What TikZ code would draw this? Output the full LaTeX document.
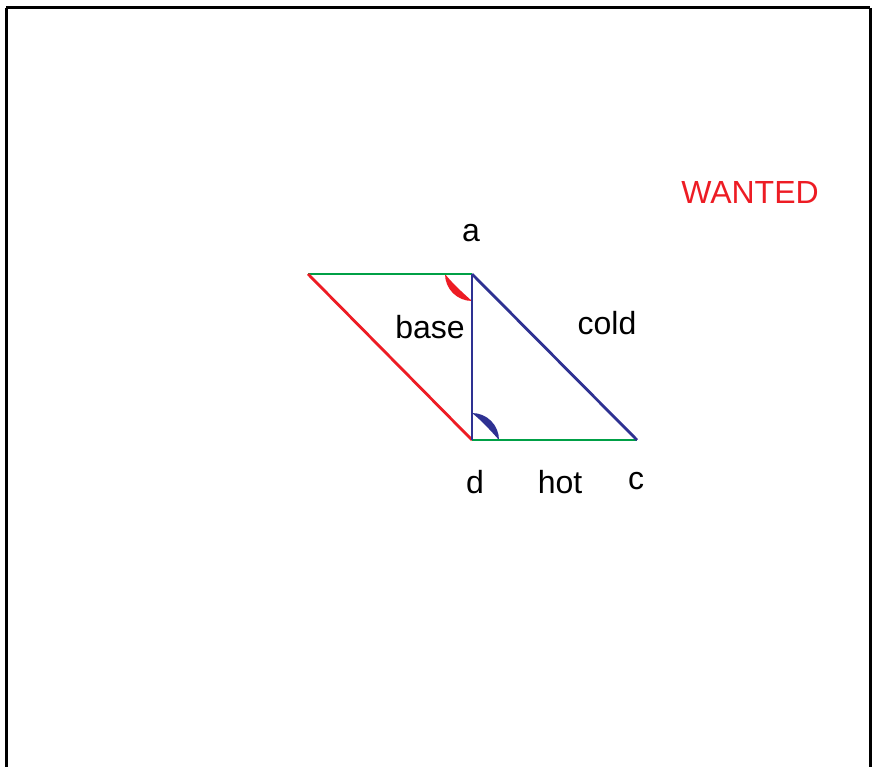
\documentclass[tikz,border=0pt]{standalone}
\usepackage{fontspec}
\setmainfont{Liberation Sans}
\definecolor{myred}{RGB}{237,28,36}
\definecolor{mygreen}{RGB}{0,160,70}
\definecolor{myblue}{RGB}{46,49,146}
\begin{document}
\begin{tikzpicture}[x=1pt,y=-1pt,
  lbl/.style={font=\fontsize{32}{36}\selectfont, anchor=base, inner sep=0pt},
  edge/.style={line width=2.8pt}]
\useasboundingbox (0,0) rectangle (873,767);
\draw[line width=3pt] (6,8) -- (870,8);
\draw[line width=3pt] (6,8) -- (6,770);
\draw[line width=3pt] (870,8) -- (870,770);
\coordinate (b) at (308,274);
\coordinate (a) at (472,274);
\coordinate (d) at (472,440);
\coordinate (c) at (637,440);
% angle marks
\fill[myred] (445,274) .. controls (445,288.9) and (457.1,301) .. (472,301)
  .. controls (464,294) and (452,283) .. cycle;
\fill[myblue] (472,413) .. controls (486.9,413) and (499,425.1) .. (499,440)
  .. controls (492,432) and (481,420) .. cycle;
\draw[edge, mygreen] (b) -- (a);
\draw[edge, mygreen] (d) -- (c);
\draw[edge, myred] (b) -- (d);
\draw[edge, myblue] (a) -- (d);
\draw[edge, myblue] (a) -- (c);
\node[lbl] (la) at (471,242) {a};
\node[lbl] (lbase) at (430,338) {base};
\node[lbl] (lcold) at (607,335) {cold};
\node[lbl] (ld) at (475,493) {d};
\node[lbl] (lhot) at (560,493) {hot};
\node[lbl] (lc) at (636,489) {c};
\node[lbl, text=myred] (lw) at (750,204) {WANTED};
\end{tikzpicture}
\end{document}
